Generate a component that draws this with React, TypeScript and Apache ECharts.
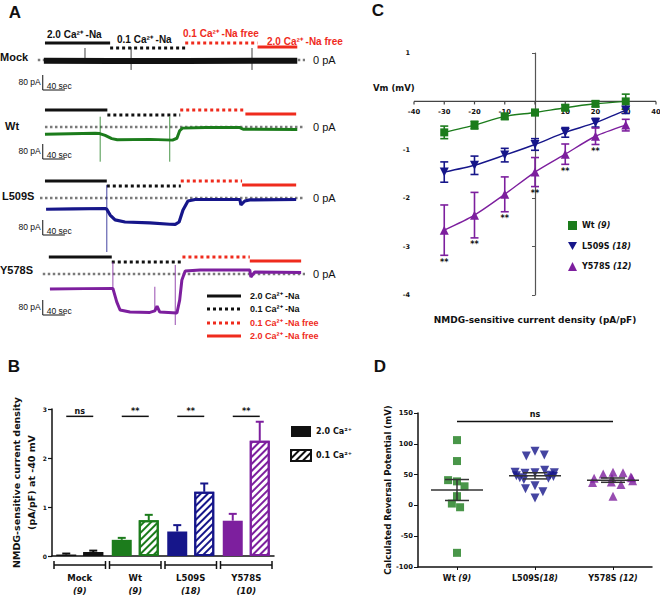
import React, { useEffect, useRef } from 'react';
import * as echarts from 'echarts';

const ARIAL = '"Liberation Sans", Arial, sans-serif';
const GP = '"DejaVu Sans", "Liberation Sans", sans-serif';
const BLACK = '#111111';
const GREEN = '#1c7c1c';
const NAVY = '#16168a';
const PURPLE = '#7d1f9e';
const RED = '#ef2b1d';
const GREY = '#7a7a7a';

// ---------------- Panel A data (time in s, current in pA) ----------------
const traceRows = ['Mock', 'Wt', 'L509S', 'Y578S'];
const traceColors = [BLACK, GREEN, NAVY, PURPLE];
const solutionLabels = ['2.0 Ca²⁺ -Na', '0.1 Ca²⁺ -Na', '0.1 Ca²⁺ -Na free', '2.0 Ca²⁺ -Na free'];
// solution switching times: [start 2.0Ca-Na, 0.1Ca-Na, 0.1Ca Na-free, 2.0Ca Na-free, end]
const mockSwitch = [9, 127, 263, 394, 466];
const wtSwitch = [9, 122, 254, 372, 464];
const l509sSwitch = [9, 121, 255, 366, 464];
const y578sSwitch = [16, 130, 258, 380, 473];
const baselineStart = [-4, 9, 0, 5];
const mockTrace = [[7, -4], [130, -5], [260, -5], [466, -4]];
const wtTrace = [[9, -39], [100, -33], [108, -35], [118, -45], [130, -62], [140, -68], [200, -66], [240, -70], [248, -60], [253, -20], [258, -6], [300, -3], [362, -3], [368, -12], [466, -13]];
const l509sTrace = [[11, -60], [60, -58], [118, -56], [121, -60], [127, -91], [136, -117], [154, -128], [199, -133], [235, -140], [245, -141], [252, -128], [259, -64], [268, -16], [281, -8], [362, -8], [364, -37], [371, -16], [380, -10], [464, -8]];
const y578sTrace = [[18, -80], [80, -78], [132, -77], [139, -149], [145, -192], [163, -203], [199, -205], [208, -197], [212, -172], [217, -203], [248, -208], [253, -139], [257, -32], [263, 16], [290, 21], [380, 21], [382, -16], [389, 11], [473, 8]];
// spikes: [time, low, high]
const mockSpikes = [[81.5, -5, 64], [165, -53, 69], [384, -53, 64]];
const wtSpikes = [[109, -185, 55], [235, -185, 55]];
const l509sSpikes = [[121, -288, 69]];
const y578sSpikes = [[132, -80, 64], [208, -200, -68], [245, -272, 48]];
const scaleBarPA = 80;
const scaleBarSec = 40;

// ---------------- Panel B data ----------------
const groups = ['Mock', 'Wt', 'L509S', 'Y578S'];
const groupN = ['(9)', '(9)', '(18)', '(10)'];
const ca20Mean = [0.03, 0.33, 0.5, 0.72];
const ca20Err = [0.02, 0.04, 0.13, 0.14];
const ca01Mean = [0.08, 0.73, 1.31, 2.35];
const ca01Err = [0.03, 0.11, 0.17, 0.39];
const groupSig = ['ns', '**', '**', '**'];
const CA20 = '2.0 Ca²⁺';
const CA01 = '0.1 Ca²⁺';

// ---------------- Panel C data ----------------
const vmSteps = [-30, -20, -10, 0, 10, 20, 30];
const vmTicks = [-40, -30, -20, -10, 0, 10, 20, 30, 40];
const wtIV = [-0.64, -0.49, -0.31, -0.23, -0.13, -0.05, 0.0];
const wtIVErr = [0.13, 0.08, 0.06, 0.06, 0.06, 0.06, 0.15];
const l509sIV = [-1.46, -1.32, -1.11, -0.89, -0.64, -0.44, -0.18];
const l509sIVErr = [0.21, 0.19, 0.14, 0.12, 0.1, 0.09, 0.07];
const y578sIV = [-2.66, -2.35, -1.92, -1.46, -1.09, -0.72, -0.49];
const y578sIVErr = [0.52, 0.47, 0.36, 0.3, 0.21, 0.17, 0.12];
const y578sSig = ['**', '**', '**', '**', '**', '**', ''];
const ivNames = ['Wt', 'L509S', 'Y578S'];
const ivN = ['(9)', '(18)', '(12)'];

// ---------------- Panel D data ----------------
const dCats = ['Wt', 'L509S', 'Y578S'];
const dN = [' (9)', '(18)', ' (12)'];
const wtErev = [106, 72, 39, 41, 31, 15, 3, -3, -77];
const l509sErev = [88, 80, 82, 53, 52, 57, 53, 54, 48, 45, 49, 44, 42, 47, 32, 27, 22, 12];
const y578sErev = [54, 51, 53, 45, 44, 46, 44, 40, 38, 37, 34, 15];
const dMean = [25, 48, 41];
const dSem = [17, 5, 3.5];
const dSigLabel = 'ns';
const dSigValue = 136;

const groupColors = [BLACK, GREEN, NAVY, PURPLE];
const ivColors = [GREEN, NAVY, PURPLE];

// layout constants
const PX_PER_PA = 15 / 80;
const traceBaseY = [60, 127, 198, 274];
const solOffsets = [17, 12, 17, 13];
const scaleBarOffset = [15, 17, 22, 26];
const BAR_W = 20;
const BAR_GAP = 7;
const BAR_OFF = (BAR_W + BAR_GAP) / 2;

function tf(size: number, style = 'normal', weight = 'bold') {
  return { fontSize: size, fontWeight: weight, fontStyle: style, fontFamily: GP, color: BLACK };
}

function hatch(c: string) {
  return { symbol: 'rect', symbolSize: 1, color: c, dashArrayX: [1, 0], dashArrayY: [2, 2.5], rotation: -Math.PI / 4 };
}

function txt(text: string, x: number, y: number, font: string, fill = BLACK, align = 'left', vAlign = 'middle') {
  return {
    type: 'text', x, y,
    style: { text, font, fill, align, verticalAlign: vAlign, textAlign: align, textVerticalAlign: vAlign },
  };
}

function buildOption() {
  const grids: any[] = [];
  const xAxes: any[] = [];
  const yAxes: any[] = [];
  const series: any[] = [];
  const switches = [mockSwitch, wtSwitch, l509sSwitch, y578sSwitch];
  const traces = [mockTrace, wtTrace, l509sTrace, y578sTrace];
  const spikes = [mockSpikes, wtSpikes, l509sSpikes, y578sSpikes];
  const traceWidths = [6, 3, 3.2, 3];

  traceRows.forEach((_, i) => {
    const baseY = traceBaseY[i];
    grids.push({ left: 40, top: baseY - 100 * PX_PER_PA, width: 265, height: 400 * PX_PER_PA });
    xAxes.push({ gridIndex: i, type: 'value', min: 0, max: 480, show: false });
    yAxes.push({ gridIndex: i, type: 'value', min: -300, max: 100, show: false });
    series.push({
      type: 'custom', xAxisIndex: i, yAxisIndex: i, z: 1,
      data: [[baselineStart[i], 480]],
      renderItem: (p: any, api: any) => {
        const a = api.coord([api.value(0), 0]);
        const b = api.coord([480, 0]);
        return {
          type: 'group', children: [
            { type: 'line', shape: { x1: a[0], y1: a[1], x2: b[0], y2: b[1] }, style: { stroke: GREY, lineWidth: 2.5, lineDash: [2.5, 2.5] } },
            { type: 'text', x: b[0] + 8, y: b[1], style: { text: '0 pA', font: `11px ${ARIAL}`, fill: BLACK, align: 'left', verticalAlign: 'middle' } },
          ],
        };
      },
    });
    const sw = switches[i];
    series.push({
      type: 'custom', xAxisIndex: i, yAxisIndex: i, z: 2,
      data: [0, 1, 2, 3].map((k) => [sw[k], sw[k + 1], k]),
      renderItem: (p: any, api: any) => {
        const k = api.value(2);
        const s = api.coord([api.value(0), 0]);
        const e = api.coord([api.value(1), 0]);
        const y = s[1] - solOffsets[k];
        return {
          type: 'line', shape: { x1: s[0], y1: y, x2: e[0], y2: y },
          style: { stroke: k < 2 ? BLACK : RED, lineWidth: 3, lineDash: k === 1 || k === 2 ? [3, 3] : null },
        };
      },
    });
    series.push({
      type: 'line', xAxisIndex: i, yAxisIndex: i, z: 3, showSymbol: false, symbol: 'none',
      data: traces[i], lineStyle: { color: traceColors[i], width: traceWidths[i] }, itemStyle: { color: traceColors[i] },
    });
    series.push({
      type: 'custom', xAxisIndex: i, yAxisIndex: i, z: 3,
      data: spikes[i],
      renderItem: (p: any, api: any) => {
        const lo = api.coord([api.value(0), api.value(1)]);
        const hi = api.coord([api.value(0), api.value(2)]);
        return { type: 'line', shape: { x1: lo[0], y1: lo[1], x2: hi[0], y2: hi[1] }, style: { stroke: traceColors[i], lineWidth: 1, opacity: 0.8 } };
      },
    });
    series.push({
      type: 'custom', xAxisIndex: i, yAxisIndex: i, z: 3,
      data: [[5, scaleBarPA, scaleBarSec]],
      renderItem: (p: any, api: any) => {
        const b = api.coord([api.value(0), 0]);
        const h = api.size([0, api.value(1)])[1];
        const w = api.size([api.value(2), 0])[0];
        const top = b[1] + scaleBarOffset[i];
        const x = b[0];
        const st = { stroke: BLACK, lineWidth: 1 };
        return {
          type: 'group', children: [
            { type: 'line', shape: { x1: x, y1: top, x2: x, y2: top + h }, style: st },
            { type: 'line', shape: { x1: x, y1: top + h, x2: x + w, y2: top + h }, style: st },
            { type: 'text', x: x - 2, y: top + 7, style: { text: `${scaleBarPA} pA`, font: `8.5px ${ARIAL}`, fill: BLACK, align: 'right', verticalAlign: 'middle' } },
            { type: 'text', x: x + 4, y: top + h - 4, style: { text: `${scaleBarSec} sec`, font: `8.5px ${ARIAL}`, fill: BLACK, align: 'left', verticalAlign: 'middle' } },
          ],
        };
      },
    });
  });

  // ---------------- Panel B ----------------
  grids.push({ left: 52, top: 409, width: 222, height: 147 });
  xAxes.push({
    gridIndex: 4, type: 'category', data: groups,
    axisLine: { lineStyle: { color: BLACK, width: 1.5 } }, axisTick: { show: false },
    axisLabel: {
      margin: 15, interval: 0,
      formatter: (v: string, i: number) => `{a|${v}}\n{b|${groupN[i]}}`,
      rich: {
        a: { ...tf(8.5), lineHeight: 13 },
        b: { ...tf(8.5, 'italic'), lineHeight: 13 },
      },
    },
  });
  yAxes.push({
    gridIndex: 4, type: 'value', min: 0, max: 3, interval: 1,
    axisLine: { show: true, lineStyle: { color: BLACK, width: 1.5 } },
    axisTick: { show: true, length: 4, lineStyle: { color: BLACK, width: 1.2 } },
    axisLabel: { ...tf(6), margin: 5 },
    splitLine: { show: false },
    name: 'NMDG-sensitive current density\n(pA/pF) at -40 mV', nameLocation: 'middle', nameRotate: 90, nameGap: 10,
    nameTextStyle: { ...tf(9.5), lineHeight: 15 },
  });
  series.push({
    type: 'bar', name: CA20, xAxisIndex: 4, yAxisIndex: 4, barWidth: BAR_W, barGap: `${(BAR_GAP / BAR_W) * 100}%`,
    itemStyle: { color: BLACK },
    data: ca20Mean.map((v, i) => ({ value: v, itemStyle: { color: groupColors[i] } })),
  });
  series.push({
    type: 'bar', name: CA01, xAxisIndex: 4, yAxisIndex: 4, barWidth: BAR_W, barGap: `${(BAR_GAP / BAR_W) * 100}%`,
    itemStyle: { color: '#ffffff', borderColor: BLACK, borderWidth: 1.5, decal: hatch(BLACK) },
    data: ca01Mean.map((v, i) => ({ value: v, itemStyle: { color: '#ffffff', borderColor: groupColors[i], borderWidth: 2, decal: hatch(groupColors[i]) } })),
  });
  const errData: any[] = [];
  groups.forEach((_, i) => {
    errData.push([i, ca20Mean[i], ca20Err[i], 0]);
    errData.push([i, ca01Mean[i], ca01Err[i], 1]);
  });
  series.push({
    type: 'custom', xAxisIndex: 4, yAxisIndex: 4, z: 5, data: errData,
    renderItem: (p: any, api: any) => {
      const gi = api.value(0);
      const base = api.coord([gi, api.value(1)]);
      const top = api.coord([gi, api.value(1) + api.value(2)]);
      const x = base[0] + (api.value(3) ? 1 : -1) * BAR_OFF;
      const st = { stroke: groupColors[gi], lineWidth: 2 };
      return {
        type: 'group', children: [
          { type: 'line', shape: { x1: x, y1: base[1], x2: x, y2: top[1] }, style: st },
          { type: 'line', shape: { x1: x - 4, y1: top[1], x2: x + 4, y2: top[1] }, style: st },
        ],
      };
    },
  });
  series.push({
    type: 'custom', xAxisIndex: 4, yAxisIndex: 4, z: 5,
    data: groups.map((_, i) => [i, 2.85, i]),
    renderItem: (p: any, api: any) => {
      const gi = api.value(0);
      const c = api.coord([gi, api.value(1)]);
      const z0 = api.coord([gi, 0]);
      const bw = api.size([1, 0])[0];
      const by = z0[1] + 9;
      const st = { stroke: BLACK, lineWidth: 1.5 };
      const l = z0[0] - bw / 2 + 2;
      const r = z0[0] + bw / 2 - 2;
      return {
        type: 'group', children: [
          { type: 'line', shape: { x1: c[0] - BAR_OFF, y1: c[1], x2: c[0] + BAR_OFF, y2: c[1] }, style: st },
          { type: 'text', x: c[0], y: c[1] - 5, style: { text: groupSig[gi], font: `bold 8px ${GP}`, fill: BLACK, align: 'center', verticalAlign: 'middle' } },
          { type: 'line', shape: { x1: l, y1: by, x2: r, y2: by }, style: st },
          { type: 'line', shape: { x1: l, y1: by - 4, x2: l, y2: by + 4 }, style: st },
          { type: 'line', shape: { x1: r, y1: by - 4, x2: r, y2: by + 4 }, style: st },
        ],
      };
    },
  });

  // ---------------- Panel C ----------------
  grids.push({ left: 414, top: 53, width: 242, height: 242 });
  xAxes.push({ gridIndex: 5, type: 'value', min: -40, max: 40, interval: 10, show: false });
  yAxes.push({
    gridIndex: 5, type: 'value', min: -4, max: 1, interval: 1,
    axisLine: { show: true, onZero: true, lineStyle: { color: '#555', width: 1.2 } },
    axisTick: { show: true, length: 3, lineStyle: { color: '#555' } },
    axisLabel: { ...tf(6.5), margin: 4, formatter: (v: number) => (v === 0 ? '' : `${v}`) },
    splitLine: { show: false },
  });
  // x axis drawn at current = 0
  series.push({
    type: 'custom', xAxisIndex: 5, yAxisIndex: 5, z: 2,
    data: vmTicks.map((v) => [v, 0]),
    renderItem: (p: any, api: any) => {
      const v = api.value(0);
      const c = api.coord([v, 0]);
      const st = { stroke: '#444', lineWidth: 1.2 };
      const ch: any[] = [{ type: 'line', shape: { x1: c[0], y1: c[1], x2: c[0], y2: c[1] + 3 }, style: st }];
      if (v !== 0) {
        ch.push({ type: 'text', x: c[0], y: c[1] + 11, style: { text: `${v}`, font: `bold 6.8px ${GP}`, fill: BLACK, align: 'center', verticalAlign: 'middle' } });
      }
      if (p.dataIndex === 0) {
        const e = api.coord([vmTicks[vmTicks.length - 1], 0]);
        ch.push({ type: 'line', shape: { x1: c[0], y1: c[1], x2: e[0], y2: e[1] }, style: st });
      }
      return { type: 'group', children: ch };
    },
  });
  const ivVals = [wtIV, l509sIV, y578sIV];
  const ivErrs = [wtIVErr, l509sIVErr, y578sIVErr];
  const ivSymbols = ['rect', 'triangle', 'triangle'];
  const ivRot = [0, 180, 0];
  ivNames.forEach((name, k) => {
    series.push({
      type: 'custom', xAxisIndex: 5, yAxisIndex: 5, z: 3,
      data: vmSteps.map((v, j) => [v, ivVals[k][j], ivErrs[k][j]]),
      renderItem: (p: any, api: any) => {
        const hi = api.coord([api.value(0), api.value(1) + api.value(2)]);
        const lo = api.coord([api.value(0), api.value(1) - api.value(2)]);
        const st = { stroke: ivColors[k], lineWidth: 1.6 };
        return {
          type: 'group', children: [
            { type: 'line', shape: { x1: hi[0], y1: hi[1], x2: lo[0], y2: lo[1] }, style: st },
            { type: 'line', shape: { x1: hi[0] - 4, y1: hi[1], x2: hi[0] + 4, y2: hi[1] }, style: st },
            { type: 'line', shape: { x1: lo[0] - 4, y1: lo[1], x2: lo[0] + 4, y2: lo[1] }, style: st },
          ],
        };
      },
    });
    series.push({
      type: 'line', name, xAxisIndex: 5, yAxisIndex: 5, z: 4, smooth: 0.25,
      symbol: ivSymbols[k], symbolRotate: ivRot[k], symbolSize: k === 0 ? 8 : 9, showSymbol: true,
      data: vmSteps.map((v, j) => [v, ivVals[k][j]]),
      lineStyle: { color: ivColors[k], width: 1.4 }, itemStyle: { color: ivColors[k] },
    });
  });
  series.push({
    type: 'custom', xAxisIndex: 5, yAxisIndex: 5, z: 5,
    data: vmSteps.map((v, j) => [v, y578sIV[j] - y578sIVErr[j], j]),
    renderItem: (p: any, api: any) => {
      const c = api.coord([api.value(0), api.value(1)]);
      return { type: 'text', x: c[0], y: c[1] + 7, style: { text: y578sSig[api.value(2)], font: `bold 8px ${GP}`, fill: BLACK, align: 'center', verticalAlign: 'middle' } };
    },
  });

  // ---------------- Panel D ----------------
  grids.push({ left: 418, top: 413, width: 234, height: 154 });
  xAxes.push({
    gridIndex: 6, type: 'category', data: dCats,
    jitter: 44, jitterOverlap: false, jitterMargin: 1,
    axisLine: { onZero: false, lineStyle: { color: BLACK, width: 1.5 } },
    axisTick: { show: true, alignWithLabel: true, length: 3, lineStyle: { color: BLACK } },
    axisLabel: {
      margin: 7, interval: 0,
      formatter: (v: string, i: number) => `{a|${v}}{b|${dN[i]}}`,
      rich: { a: tf(8), b: tf(8, 'italic') },
    },
  });
  yAxes.push({
    gridIndex: 6, type: 'value', min: -100, max: 150, interval: 50,
    axisLine: { show: true, onZero: false, lineStyle: { color: BLACK, width: 1.5 } },
    axisTick: { show: true, length: 4, lineStyle: { color: BLACK } },
    axisLabel: { ...tf(6.8), margin: 5 },
    splitLine: { show: false },
    name: 'Calculated Reversal Potential (mV)', nameLocation: 'middle', nameRotate: 90, nameGap: 20,
    nameTextStyle: tf(8.6),
  });
  const dVals = [wtErev, l509sErev, y578sErev];
  dCats.forEach((c, k) => {
    series.push({
      type: 'scatter', name: `${c} Erev`, xAxisIndex: 6, yAxisIndex: 6, z: 3,
      symbol: ivSymbols[k], symbolRotate: ivRot[k], symbolSize: k === 0 ? 8 : 9,
      itemStyle: { color: ivColors[k] },
      data: dVals[k].map((v) => [k, v]),
    });
  });
  series.push({
    type: 'custom', xAxisIndex: 6, yAxisIndex: 6, z: 6,
    data: dCats.map((_, k) => [k, dMean[k], dSem[k]]),
    renderItem: (p: any, api: any) => {
      const c = api.coord([api.value(0), api.value(1)]);
      const hi = api.coord([api.value(0), api.value(1) + api.value(2)]);
      const lo = api.coord([api.value(0), api.value(1) - api.value(2)]);
      const st = { stroke: '#333', lineWidth: 1.5 };
      return {
        type: 'group', children: [
          { type: 'line', shape: { x1: c[0] - 26, y1: c[1], x2: c[0] + 26, y2: c[1] }, style: st },
          { type: 'line', shape: { x1: c[0], y1: hi[1], x2: c[0], y2: lo[1] }, style: st },
          { type: 'line', shape: { x1: c[0] - 12, y1: hi[1], x2: c[0] + 12, y2: hi[1] }, style: st },
          { type: 'line', shape: { x1: c[0] - 12, y1: lo[1], x2: c[0] + 12, y2: lo[1] }, style: st },
        ],
      };
    },
  });
  series.push({
    type: 'custom', xAxisIndex: 6, yAxisIndex: 6, z: 6,
    data: [[0, dSigValue, 2]],
    renderItem: (p: any, api: any) => {
      const a = api.coord([api.value(0), api.value(1)]);
      const b = api.coord([api.value(2), api.value(1)]);
      return {
        type: 'group', children: [
          { type: 'line', shape: { x1: a[0], y1: a[1], x2: b[0], y2: b[1] }, style: { stroke: BLACK, lineWidth: 1.5 } },
          { type: 'text', x: (a[0] + b[0]) / 2, y: a[1] - 7, style: { text: dSigLabel, font: `bold 8px ${GP}`, fill: BLACK, align: 'center', verticalAlign: 'middle' } },
        ],
      };
    },
  });

  // ---------------- graphics ----------------
  const g: any[] = [];
  const big = `bold 17px ${ARIAL}`;
  g.push(txt('A', 15, 12, big, BLACK, 'center'));
  g.push(txt('B', 14, 366, big, BLACK, 'center'));
  g.push(txt('C', 378, 10, big, BLACK, 'center'));
  g.push(txt('D', 380, 366, big, BLACK, 'center'));
  const rowLabelX = [0, 5, 2, 0];
  const rowLabelY = [57, 126, 196, 270];
  traceRows.forEach((r, i) => g.push(txt(r, rowLabelX[i], rowLabelY[i], `bold 11px ${ARIAL}`)));
  const topX = [47, 117, 183, 267];
  const topY = [34, 39, 33, 41];
  solutionLabels.forEach((s, k) => g.push(txt(s, topX[k], topY[k], `bold 10px ${ARIAL}`, k < 2 ? BLACK : RED)));
  const legY = [296, 309, 323, 336];
  solutionLabels.forEach((s, k) => {
    g.push({
      type: 'line', shape: { x1: 207, y1: legY[k], x2: 241, y2: legY[k] },
      style: { stroke: k < 2 ? BLACK : RED, lineWidth: 3, lineDash: k === 1 || k === 2 ? [3, 3] : null },
    });
    g.push(txt(s, 250, legY[k], `bold 9px ${ARIAL}`, k < 2 ? BLACK : RED));
  });
  g.push(txt('Vm (mV)', 373, 88, `bold 8.5px ${GP}`));
  g.push(txt('NMDG-sensitive current density (pA/pF)', 535, 320, `bold 9px ${GP}`, BLACK, 'center'));

  return {
    animation: false,
    backgroundColor: '#ffffff',
    textStyle: { fontFamily: GP },
    grid: grids,
    xAxis: xAxes,
    yAxis: yAxes,
    legend: [
      {
        data: [CA20, CA01], orient: 'vertical', left: 285, top: 421, itemWidth: 20, itemHeight: 11, itemGap: 12,
        icon: 'rect', selectedMode: false, textStyle: tf(8),
      },
      {
        data: [
          { name: 'Wt', icon: 'rect' },
          { name: 'L509S', icon: 'path://M0,0L10,0L5,9Z' },
          { name: 'Y578S', icon: 'triangle' },
        ],
        orient: 'vertical', left: 563, top: 216, itemWidth: 9, itemHeight: 9, itemGap: 12, selectedMode: false,
        formatter: (name: string) => `{a|${name}} {b|${ivN[ivNames.indexOf(name)]}}`,
        textStyle: { ...tf(8), rich: { a: tf(8), b: tf(8, 'italic') } },
      },
    ],
    graphic: { elements: g },
    series,
  };
}

export default function App() {
  const ref = useRef<HTMLDivElement>(null);
  useEffect(() => {
    const chart = echarts.init(ref.current!, undefined, { renderer: 'svg' });
    chart.setOption(buildOption() as any);
    return () => chart.dispose();
  }, []);
  return <div ref={ref} style={{ position: 'absolute', left: 0, top: 0, width: 660, height: 595, background: '#fff' }} />;
}
